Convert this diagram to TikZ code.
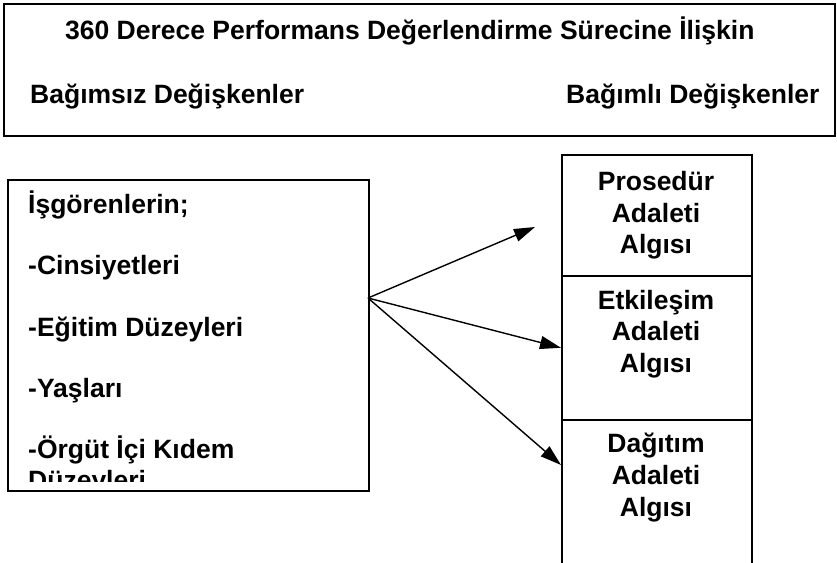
\documentclass[tikz,border=0pt]{standalone}
\usepackage{fontspec}
\setmainfont{Liberation Sans}
\usetikzlibrary{arrows.meta}
\begin{document}
\begin{tikzpicture}[x=1pt,y=-1pt,
  frame/.style={draw, line width=1.6pt, rectangle, inner sep=0pt, anchor=north west},
  lbl/.style={font=\bfseries\fontsize{26.5}{31.5}\selectfont, inner sep=0pt, anchor=base west},
  clbl/.style={lbl, anchor=base},
  link/.style={line width=1.4pt, -{Triangle[length=21pt,width=13pt]}}]
\useasboundingbox (0,0) rectangle (837,562);

% header frame
\node[frame, minimum width=831pt, minimum height=132pt] (head) at (3,3) {};
\node[lbl] (title) at (65,39) {360 Derece Performans Değerlendirme Sürecine İlişkin};
\node[lbl] (indep) at (30,103) {Bağımsız Değişkenler};
\node[lbl] (dep) at (566,103) {Bağımlı Değişkenler};

% independent variables
\node[frame, minimum width=361pt, minimum height=311pt] (vars) at (7,179) {};
\begin{scope}
  \clip (7,179) rectangle (368,481);
  \node[lbl] (v0) at (28,213) {İşgörenlerin;};
  \node[lbl] (v1) at (28,274) {-Cinsiyetleri};
  \node[lbl] (v2) at (28,336.5) {-Eğitim Düzeyleri};
  \node[lbl] (v3) at (28,397.5) {-Yaşları};
  \node[lbl] (v4) at (28,458) {-Örgüt İçi Kıdem};
  \node[lbl] (v5) at (28,489) {Düzeyleri};
\end{scope}

% dependent variables
\node[frame, minimum width=190pt, minimum height=121pt] (pbox) at (561,154) {};
\node[frame, minimum width=190pt, minimum height=144pt] (ebox) at (561,275) {};
\node[frame, minimum width=190pt, minimum height=150pt] (dbox) at (561,419) {};

\node[clbl] (p1) at (656,190) {Prosedür};
\node[clbl] (p2) at (656,222) {Adaleti};
\node[clbl] (p3) at (656,253) {Algısı};
\node[clbl] (e1) at (656,309) {Etkileşim};
\node[clbl] (e2) at (656,340) {Adaleti};
\node[clbl] (e3) at (656,372) {Algısı};
\node[clbl] (d1) at (656,452.5) {Dağıtım};
\node[clbl] (d2) at (656,484.5) {Adaleti};
\node[clbl] (d3) at (656,516) {Algısı};

% connectors
\coordinate (src) at (368,298);
\coordinate (tipP) at (535,227);
\coordinate (tipD) at (561,465);
\draw[link] (src) -- (tipP);
\draw[link] (src) -- (ebox.west);
\draw[link] (src) -- (tipD);
\end{tikzpicture}
\end{document}
